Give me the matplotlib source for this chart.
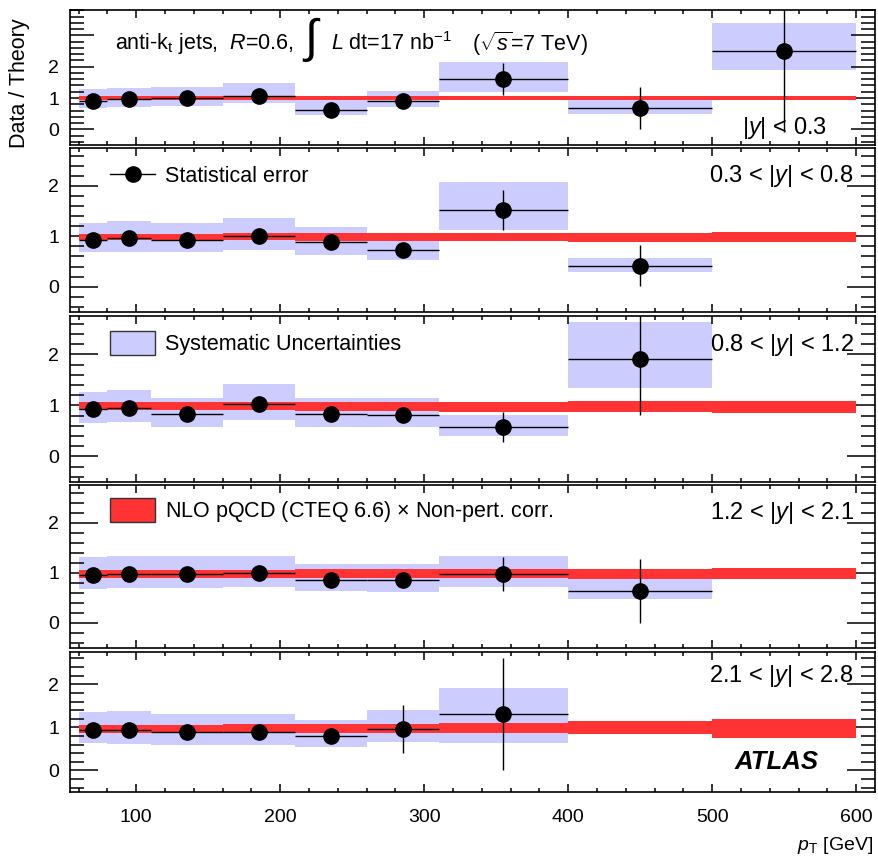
import numpy as np
import matplotlib
matplotlib.use('Agg')
import matplotlib.pyplot as plt
from matplotlib.ticker import MultipleLocator
from matplotlib.lines import Line2D
from matplotlib.patches import Patch

plt.rcParams['font.family'] = ['Liberation Sans', 'DejaVu Sans']
plt.rcParams['mathtext.fontset'] = 'custom'
plt.rcParams['mathtext.rm'] = 'Liberation Sans'
plt.rcParams['mathtext.it'] = 'Liberation Sans:italic'
plt.rcParams['mathtext.bf'] = 'Liberation Sans:bold'

nan = np.nan

# pT bins [GeV] and bin centres
bin_edges = [60, 80, 110, 160, 210, 260, 310, 400, 500, 600]
pt_centers = [70, 95, 135, 185, 235, 285, 355, 450, 550]

rap_labels = [r'$|y|$ < 0.3', r'0.3 < $|y|$ < 0.8', r'0.8 < $|y|$ < 1.2',
              r'1.2 < $|y|$ < 2.1', r'2.1 < $|y|$ < 2.8']

# data / theory ratio, statistical error
ratio_1 = [0.92, 0.96, 1.00, 1.07, 0.62, 0.90, 1.61, 0.67, 2.50]
stat_1 = [0.03, 0.03, 0.03, 0.05, 0.07, 0.10, 0.50, 0.67, 2.60]
ratio_2 = [0.93, 0.96, 0.92, 1.01, 0.88, 0.73, 1.52, 0.42, nan]
stat_2 = [0.03, 0.03, 0.03, 0.05, 0.07, 0.08, 0.39, 0.41, nan]
ratio_3 = [0.92, 0.94, 0.84, 1.02, 0.84, 0.82, 0.58, 1.90, nan]
stat_3 = [0.03, 0.03, 0.03, 0.05, 0.07, 0.12, 0.30, 1.09, nan]
ratio_4 = [0.95, 0.97, 0.97, 0.99, 0.85, 0.85, 0.97, 0.64, nan]
stat_4 = [0.03, 0.03, 0.03, 0.04, 0.05, 0.08, 0.34, 0.64, nan]
ratio_5 = [0.95, 0.95, 0.89, 0.89, 0.81, 0.97, 1.31, nan, nan]
stat_5 = [0.03, 0.03, 0.04, 0.05, 0.08, 0.56, 1.30, nan, nan]

# systematic uncertainty band (low, high)
sys_lo_1 = [0.67, 0.70, 0.74, 0.83, 0.46, 0.70, 1.20, 0.49, 1.89]
sys_hi_1 = [1.28, 1.31, 1.34, 1.49, 0.94, 1.23, 2.16, 0.94, 3.40]
sys_lo_2 = [0.69, 0.69, 0.69, 0.73, 0.63, 0.53, 1.13, 0.30, nan]
sys_hi_2 = [1.26, 1.31, 1.26, 1.36, 1.18, 0.91, 2.07, 0.57, nan]
sys_lo_3 = [0.65, 0.67, 0.58, 0.72, 0.58, 0.58, 0.40, 1.35, nan]
sys_hi_3 = [1.27, 1.31, 1.15, 1.42, 1.15, 1.15, 0.82, 2.64, nan]
sys_lo_4 = [0.68, 0.70, 0.70, 0.71, 0.63, 0.61, 0.71, 0.48, nan]
sys_hi_4 = [1.32, 1.33, 1.33, 1.34, 1.18, 1.17, 1.34, 0.88, nan]
sys_lo_5 = [0.63, 0.62, 0.60, 0.60, 0.54, 0.65, 0.64, nan, nan]
sys_hi_5 = [1.35, 1.38, 1.31, 1.31, 1.18, 1.40, 1.91, nan, nan]

# NLO theory band (low, high)
th_lo_1 = [0.94, 0.94, 0.94, 0.94, 0.94, 0.94, 0.94, 0.93, 0.93]
th_hi_1 = [1.05, 1.05, 1.05, 1.06, 1.06, 1.06, 1.06, 1.07, 1.07]
th_lo_2 = [0.92, 0.92, 0.92, 0.92, 0.91, 0.91, 0.90, 0.89, 0.88]
th_hi_2 = [1.05, 1.05, 1.05, 1.06, 1.06, 1.06, 1.07, 1.07, 1.08]
th_lo_3 = [0.90, 0.90, 0.90, 0.90, 0.89, 0.89, 0.88, 0.87, 0.86]
th_hi_3 = [1.06, 1.06, 1.06, 1.06, 1.07, 1.07, 1.07, 1.08, 1.09]
th_lo_4 = [0.90, 0.90, 0.90, 0.90, 0.89, 0.89, 0.89, 0.88, 0.87]
th_hi_4 = [1.05, 1.05, 1.05, 1.06, 1.07, 1.07, 1.08, 1.08, 1.09]
th_lo_5 = [0.88, 0.88, 0.88, 0.88, 0.87, 0.87, 0.87, 0.85, 0.76]
th_hi_5 = [1.06, 1.06, 1.06, 1.07, 1.08, 1.08, 1.10, 1.15, 1.20]

ratios = [ratio_1, ratio_2, ratio_3, ratio_4, ratio_5]
stats = [stat_1, stat_2, stat_3, stat_4, stat_5]
sys_los = [sys_lo_1, sys_lo_2, sys_lo_3, sys_lo_4, sys_lo_5]
sys_his = [sys_hi_1, sys_hi_2, sys_hi_3, sys_hi_4, sys_hi_5]
th_los = [th_lo_1, th_lo_2, th_lo_3, th_lo_4, th_lo_5]
th_his = [th_hi_1, th_hi_2, th_hi_3, th_hi_4, th_hi_5]

SYS_COL = '#ccccff'
TH_COL = '#ff3333'

W, H = 879, 857
fig = plt.figure(figsize=(W / 100, H / 100), dpi=100)

def fx(x):
    return x / W

def fy(y):
    return 1 - y / H

# panel extents in pixels (top, bottom)
panels = [(10, 145), (148, 312), (316, 482), (485, 648), (652, 792)]
left_px, right_px = 70, 875

edges = np.array(bin_edges, dtype=float)
widths = np.diff(edges)
pts = np.array(pt_centers, dtype=float)
xerr = [pts - edges[:-1], edges[1:] - pts]

axes = []
for i, (top, bot) in enumerate(panels):
    ax = fig.add_axes([fx(left_px), fy(bot), fx(right_px - left_px), (bot - top) / H])
    axes.append(ax)
    slo = np.array(sys_los[i]); shi = np.array(sys_his[i])
    tlo = np.array(th_los[i]); thi = np.array(th_his[i])
    ax.bar(edges[:-1], shi - slo, width=widths, bottom=slo, align='edge',
           color=SYS_COL, lw=0, zorder=1)
    ax.bar(edges[:-1], thi - tlo, width=widths, bottom=tlo, align='edge',
           color=TH_COL, lw=0, zorder=2)
    ax.errorbar(pts, ratios[i], xerr=xerr, yerr=stats[i], fmt='o', color='black',
                ms=11, elinewidth=1, capsize=0, zorder=3)

    ax.set_xlim(54, 613)
    if i == 0:
        ax.set_ylim(-0.5, 3.81)
        ax.set_yticks([0, 1, 2, 3])
        ax.set_yticklabels(['0', '1', '2', ''])
        ylen = 17
    else:
        ax.set_ylim(-0.5, 2.75)
        ax.set_yticks([0, 1, 2])
        ylen = 20
    ax.yaxis.set_minor_locator(MultipleLocator(0.2))
    ax.xaxis.set_major_locator(MultipleLocator(100))
    ax.xaxis.set_minor_locator(MultipleLocator(20))
    ax.tick_params(which='both', direction='in', top=True, right=True, labelsize=14, width=1.1)
    ax.tick_params(axis='y', which='major', length=ylen, pad=8)
    ax.tick_params(axis='y', which='minor', length=10)
    ax.tick_params(axis='x', which='major', length=6, pad=12)
    ax.tick_params(axis='x', which='minor', length=3)
    if i < 4:
        ax.set_xticklabels([])
    for s in ax.spines.values():
        s.set_linewidth(1.2)

    if i == 0:
        ax.text(0.940, 0.126, rap_labels[i], transform=ax.transAxes, ha='right',
                va='center', fontsize=17)
    else:
        ax.text(0.974, 0.828, rap_labels[i], transform=ax.transAxes, ha='right',
                va='center', fontsize=17)

# legends
leg_kw = dict(loc='center left', frameon=False, fontsize=15.5, borderpad=0,
              borderaxespad=0, handletextpad=0.45, handlelength=2.1)
axes[1].legend(handles=[Line2D([], [], color='black', marker='o', ms=11, lw=1)],
               labels=['Statistical error'], bbox_to_anchor=(0.05, 0.829), **leg_kw)
axes[2].legend(handles=[Patch(facecolor=SYS_COL, edgecolor='#333333', lw=1)],
               labels=['Systematic Uncertainties'], bbox_to_anchor=(0.05, 0.837),
               handleheight=1.35, **leg_kw)
axes[3].legend(handles=[Patch(facecolor=TH_COL, edgecolor='#333333', lw=1)],
               labels=[r'NLO pQCD (CTEQ 6.6) $\times$ Non-pert. corr.'],
               bbox_to_anchor=(0.05, 0.84), handleheight=1.35, **leg_kw)

# top annotations
fig.text(fx(115), fy(44), r'anti-k$_{\rm t}$ jets,  $R$=0.6,', fontsize=15.5, va='center')
fig.text(fx(302), fy(40), r'$\int$', fontsize=34, va='center')
fig.text(fx(331), fy(44), r'$L$ dt=17 nb$^{-1}$', fontsize=15.5, va='center')
fig.text(fx(472), fy(44), r'($\sqrt{s}$=7 TeV)', fontsize=15.5, va='center')

fig.text(fx(735), fy(762), 'ATLAS', fontsize=18.5, fontweight='bold', fontstyle='italic',
         va='center')

fig.text(fx(20), fy(18), 'Data / Theory', rotation=90, fontsize=15.5, ha='center', va='top')
fig.text(fx(873), fy(845), r'$p_{\rm T}$ [GeV]', fontsize=14, ha='right', va='center')

fig.savefig('out.png', dpi=100)
